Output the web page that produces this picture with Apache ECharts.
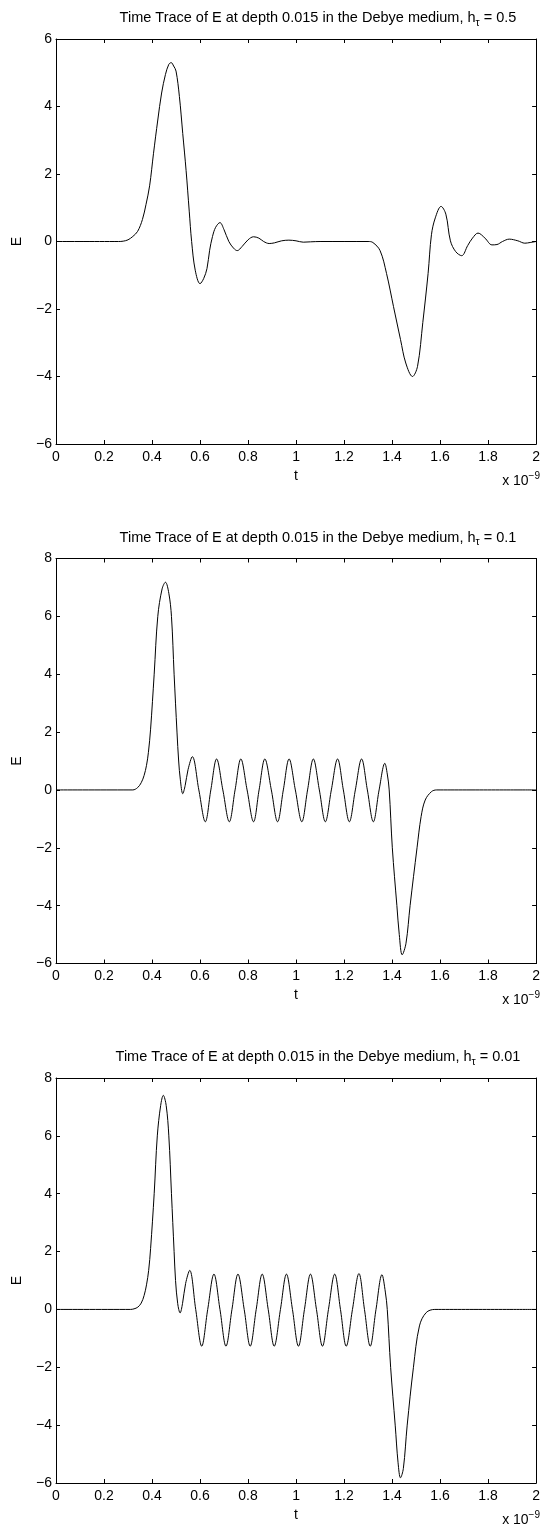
<!DOCTYPE html>
<html><head><meta charset="utf-8">
<script src="https://cdn.jsdelivr.net/npm/echarts@6/dist/echarts.min.js"></script>
<style>html,body{margin:0;padding:0;background:#fff}#c{width:543px;height:1526px}</style>
</head><body><div id="c"></div>
<script>
// ---- data (t in units of 1e-9 s) ----
const tauLabels = ['0.5', '0.1', '0.01'];
const titleMain = 'Time Trace of E at depth 0.015 in the Debye medium, h';
const xLabelName = 't';
const yLabelName = 'E';
const xScaleNote = 'x 10';
const xScaleExp = '−9';

const tA = [0, 0.26, 0.28, 0.30, 0.32, 0.34, 0.36, 0.375, 0.39, 0.406, 0.424, 0.44, 0.456, 0.47, 0.48, 0.49, 0.50, 0.514, 0.528, 0.542, 0.555, 0.565, 0.58, 0.60, 0.615, 0.629, 0.64, 0.652, 0.665, 0.683, 0.70, 0.72, 0.74, 0.755, 0.775, 0.80, 0.823, 0.845, 0.865, 0.888, 0.91, 0.94, 0.97, 1.0, 1.03, 1.06, 1.1, 1.2, 1.3, 1.32, 1.35, 1.377, 1.406, 1.435, 1.457, 1.485, 1.506, 1.528, 1.55, 1.564, 1.58, 1.604, 1.624, 1.643, 1.665, 1.69, 1.715, 1.735, 1.758, 1.787, 1.816, 1.837, 1.86, 1.888, 1.924, 1.953, 1.975, 2.0];
const eA = [0, 0, 0.01, 0.05, 0.15, 0.3, 0.65, 1.1, 1.65, 2.6, 3.6, 4.4, 4.95, 5.25, 5.3, 5.2, 5.05, 4.3, 3.2, 2.1, 0.9, 0.0, -0.85, -1.25, -1.1, -0.8, -0.26, 0.15, 0.42, 0.56, 0.35, 0.0, -0.2, -0.27, -0.15, 0.05, 0.14, 0.1, 0.0, -0.06, -0.04, 0.02, 0.04, 0.02, -0.02, -0.01, 0, 0, 0, -0.03, -0.27, -0.95, -1.93, -2.9, -3.6, -4.0, -3.7, -2.4, -0.95, 0.2, 0.7, 1.04, 0.81, 0.02, -0.3, -0.42, -0.12, 0.1, 0.25, 0.1, -0.1, -0.09, 0.0, 0.07, 0.02, -0.05, -0.03, 0.0];

const tB = [0, 0.30, 0.32, 0.34, 0.355, 0.367, 0.377, 0.385, 0.394, 0.409, 0.424, 0.442, 0.456, 0.47, 0.481, 0.492, 0.504, 0.511, 0.518, 0.528, 0.538, 0.55,
  0.568, 0.595, 0.622, 0.645, 0.669, 0.695, 0.722, 0.746, 0.770, 0.796, 0.823, 0.846, 0.870, 0.897, 0.923, 0.947, 0.971, 0.997, 1.024, 1.048, 1.072, 1.097, 1.122, 1.147, 1.173, 1.197, 1.222, 1.247, 1.273, 1.297, 1.322, 1.346, 1.370,
  1.38, 1.388, 1.401, 1.42, 1.43, 1.442, 1.458, 1.475, 1.504, 1.521, 1.538, 1.564, 1.586, 2.0];
const eB = [0, 0, 0, 0.08, 0.25, 0.5, 0.85, 1.3, 2.1, 4.0, 6.0, 6.95, 7.18, 6.8, 6.0, 4.0, 2.0, 1.0, 0.35, -0.13, 0.15, 0.7,
  1.15, 0.0, -1.1, 0.0, 1.07, 0.0, -1.1, 0.0, 1.07, 0.0, -1.1, 0.0, 1.07, 0.0, -1.1, 0.0, 1.07, 0.0, -1.1, 0.0, 1.07, 0.0, -1.1, 0.0, 1.07, 0.0, -1.1, 0.0, 1.07, 0.0, -1.1, 0.0, 0.92,
  0.55, 0.0, -2.0, -4.0, -5.0, -5.7, -5.3, -4.0, -2.0, -0.92, -0.35, -0.06, 0, 0];

const tC = [0, 0.31, 0.325, 0.341, 0.355, 0.367, 0.377, 0.386, 0.394, 0.409, 0.422, 0.436, 0.447, 0.459, 0.47, 0.481, 0.492, 0.498, 0.507, 0.517, 0.527, 0.54,
  0.557, 0.582, 0.607, 0.632, 0.658, 0.683, 0.708, 0.733, 0.758, 0.784, 0.809, 0.834, 0.859, 0.884, 0.909, 0.935, 0.960, 0.985, 1.010, 1.035, 1.060, 1.085, 1.110, 1.135, 1.161, 1.185, 1.209, 1.235, 1.262, 1.285, 1.309, 1.333, 1.358,
  1.372, 1.38, 1.394, 1.413, 1.425, 1.435, 1.447, 1.463, 1.489, 1.514, 1.542, 1.578, 2.0];
const eC = [0, 0, 0.02, 0.08, 0.22, 0.48, 0.85, 1.35, 2.1, 4.0, 6.0, 7.05, 7.4, 7.05, 6.0, 4.0, 2.0, 1.0, 0.2, -0.12, 0.2, 0.9,
  1.35, 0.0, -1.27, 0.0, 1.22, 0.0, -1.27, 0.0, 1.22, 0.0, -1.27, 0.0, 1.22, 0.0, -1.27, 0.0, 1.22, 0.0, -1.27, 0.0, 1.22, 0.0, -1.27, 0.0, 1.22, 0.0, -1.27, 0.0, 1.24, 0.0, -1.27, 0.0, 1.2,
  0.6, 0.0, -2.0, -4.0, -5.3, -5.82, -5.5, -4.0, -2.0, -0.57, -0.11, 0, 0];

const seriesT = [tA, tB, tC];
const seriesE = [eA, eB, eC];
const yMin = [-6, -6, -6];
const yMax = [6, 8, 8];

// ---- layout ----
const FONT = 'Liberation Sans, Arial, Helvetica, sans-serif';
const gridLeft = 56, gridW = 482, gridH = 405;
const gridTops = [39, 558.5, 1078];

const chart = echarts.init(document.getElementById('c'), null, {renderer: 'canvas'});
const grids = [], xAxes = [], yAxes = [], series = [], graphics = [];
const lineCol = '#000';
gridTops.forEach((top, i) => {
  grids.push({left: gridLeft, top: top, width: gridW, height: gridH, containLabel: false});
  const common = {
    type: 'value', gridIndex: i, splitLine: {show: false},
    axisLine: {show: true, onZero: false, lineStyle: {color: lineCol, width: 1}},
    axisTick: {show: true, inside: true, length: 4, lineStyle: {color: lineCol, width: 1}}
  };
  xAxes.push(Object.assign({}, common, {
    position: 'bottom', min: 0, max: 2, interval: 0.2,
    axisLabel: {color: '#000', fontSize: 14, fontFamily: FONT, margin: 6},
    name: xLabelName, nameLocation: 'middle', nameGap: 25,
    nameTextStyle: {color: '#000', fontSize: 14, fontFamily: FONT}
  }));
  xAxes.push(Object.assign({}, common, {
    position: 'top', min: 0, max: 2, interval: 0.2, axisLabel: {show: false}
  }));
  yAxes.push(Object.assign({}, common, {
    position: 'left', min: yMin[i], max: yMax[i], interval: 2,
    axisLabel: {color: '#000', fontSize: 14, fontFamily: FONT, margin: 4,
      formatter: v => String(v).replace('-', '−')},
    name: yLabelName, nameLocation: 'middle', nameGap: 32, nameRotate: 90,
    nameTextStyle: {color: '#000', fontSize: 14, fontFamily: FONT}
  }));
  yAxes.push(Object.assign({}, common, {
    position: 'right', min: yMin[i], max: yMax[i], interval: 2, axisLabel: {show: false}
  }));
  series.push({
    type: 'line', xAxisIndex: 2 * i, yAxisIndex: 2 * i,
    data: seriesT[i].map((t, k) => [t, seriesE[i][k]]),
    showSymbol: false, smooth: 0.35, silent: true, animation: false,
    lineStyle: {color: '#000', width: 1}
  });
  graphics.push({
    type: 'text', x: 318, y: top - 21, silent: true,
    style: {
      text: '{m|' + titleMain + '}{s|τ}{m| = ' + tauLabels[i] + '}',
      align: 'center', verticalAlign: 'middle',
      rich: {
        m: {fontSize: 14.5, fontFamily: FONT, fill: '#000', lineHeight: 20},
        s: {fontSize: 10.5, fontFamily: FONT, fill: '#000', lineHeight: 10, padding: [10, 0, 0, 0]}
      }
    }
  });
  graphics.push({
    type: 'text', x: 540, y: top + gridH + 37, silent: true,
    style: {
      text: '{a|' + xScaleNote + '}{b|' + xScaleExp + '}',
      align: 'right', verticalAlign: 'middle',
      rich: {
        a: {fontSize: 14, fontFamily: FONT, fill: '#000', lineHeight: 20},
        b: {fontSize: 10, fontFamily: FONT, fill: '#000', lineHeight: 10, padding: [0, 0, 10, 0]}
      }
    }
  });
});

chart.setOption({
  animation: false,
  backgroundColor: '#fff',
  grid: grids, xAxis: xAxes, yAxis: yAxes, series: series, graphic: graphics
});
</script></body></html>
